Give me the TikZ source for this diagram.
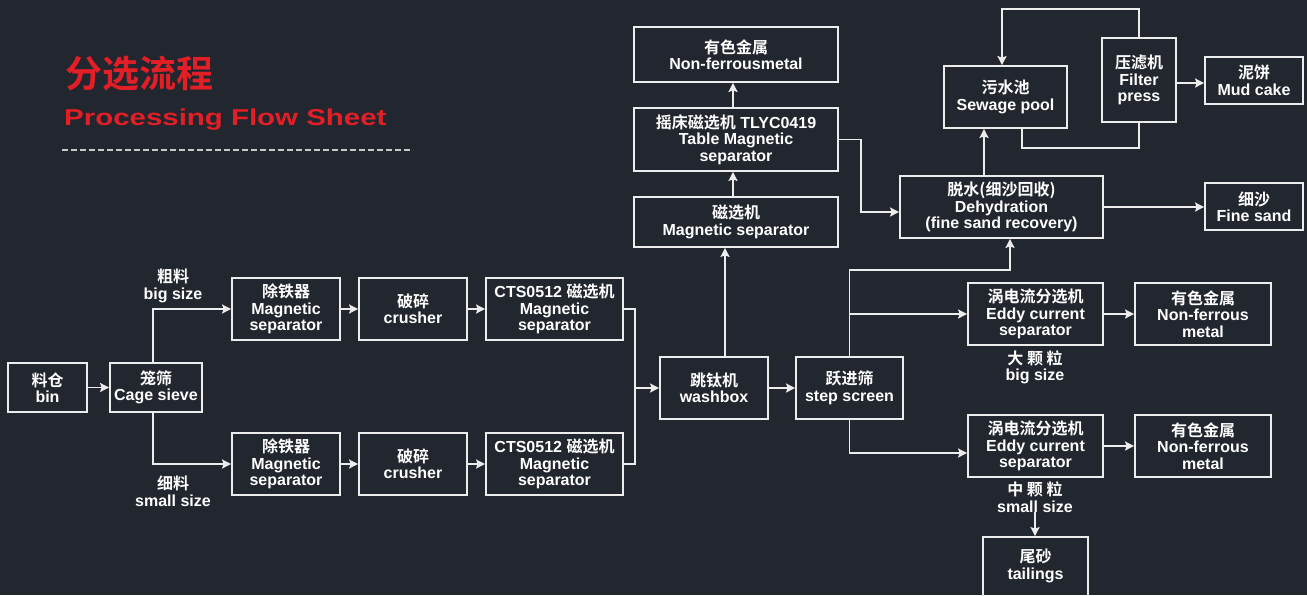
\documentclass[tikz,border=0pt]{standalone}
\usepackage{fontspec}
\usepackage{graphicx}
\setmainfont{Liberation Sans}
\newfontfamily\cjk{Noto Sans CJK SC}[BoldFont={Noto Sans CJK SC Bold}]
\usetikzlibrary{arrows.meta}
\definecolor{bgc}{RGB}{34,38,46}
\definecolor{boxc}{RGB}{236,236,236}
\definecolor{titlered}{RGB}{226,30,38}
\definecolor{dashc}{RGB}{200,200,200}
\newcommand\zh[1]{{\cjk #1}}
\tikzset{
  box/.style={draw=boxc, line width=1.8pt, text=white, align=center,
    font=\fontsize{16}{16.5}\selectfont\bfseries, inner sep=0pt, anchor=center},
  lbl/.style={text=white, align=center, font=\fontsize{16}{16.5}\selectfont\bfseries, inner sep=0pt},
  arr/.style={draw=boxc, line width=1.8pt, -{Stealth[length=9pt,width=9pt,inset=1.5pt]}},
  ln/.style={draw=boxc, line width=1.8pt}
}
\begin{document}
\begin{tikzpicture}[x=1pt,y=1pt]
\useasboundingbox (0,0) rectangle (1307,-595);
\fill[bgc] (0,0) rectangle (1307,-595);
\clip (0,0) rectangle (1307,-595);
% title
\node[text=titlered, font=\cjk\fontsize{37}{37}\selectfont\bfseries, inner sep=0pt] (t1) at (139,-73.5) {分选流程};
\node[text=titlered, font=\fontsize{23}{23}\selectfont\bfseries, inner sep=0pt, anchor=base west] (t2) at (64,-125) {\scalebox{1.28}[1]{Processing Flow Sheet}};
\draw[dashc, line width=1.5pt, dash pattern=on 6pt off 3pt] (62,-150) -- (413,-150);
% nodes
\node[box, minimum width=79pt, minimum height=49pt] (bin) at (47.5,-387.5) {\zh{料仓}\\bin};
\node[box, minimum width=92pt, minimum height=49pt] (cage) at (156,-387.5) {\zh{笼筛}\\Cage sieve};
\node[box, minimum width=108pt, minimum height=62pt] (ms1) at (286,-309) {\zh{除铁器}\\Magnetic\\separator};
\node[box, minimum width=108pt, minimum height=62pt] (cr1) at (413,-309) {\zh{破碎}\\crusher};
\node[box, minimum width=108pt, minimum height=62pt] (ms2) at (286,-464) {\zh{除铁器}\\Magnetic\\separator};
\node[box, minimum width=108pt, minimum height=62pt] (cr2) at (413,-464) {\zh{破碎}\\crusher};
\node[box, minimum width=137pt, minimum height=62pt] (cts1) at (554.5,-309) {CTS0512 \zh{磁选机}\\Magnetic\\separator};
\node[box, minimum width=137pt, minimum height=62pt] (cts2) at (554.5,-464) {CTS0512 \zh{磁选机}\\Magnetic\\separator};
\node[box, minimum width=108pt, minimum height=62pt] (wash) at (714,-388) {\zh{跳钛机}\\washbox};
\node[box, minimum width=107pt, minimum height=62pt] (step) at (849.5,-388) {\zh{跃进筛}\\step screen};
\node[box, minimum width=204pt, minimum height=55pt] (nfm) at (736,-54.5) {\zh{有色金属}\\Non-ferrousmetal};
\node[box, minimum width=204pt, minimum height=63pt] (table) at (736,-139.5) {\zh{摇床磁选机} TLYC0419\\Table Magnetic\\separator};
\node[box, minimum width=204pt, minimum height=50pt] (mag) at (736,-222) {\zh{磁选机}\\Magnetic separator};
\node[box, minimum width=203pt, minimum height=62pt] (dehy) at (1001.5,-207) {\zh{脱水(细沙回收)}\\Dehydration\\(fine sand recovery)};
\node[box, minimum width=123pt, minimum height=62pt] (sew) at (1005.5,-97) {\zh{污水池}\\Sewage pool};
\node[box, minimum width=74pt, minimum height=84pt] (filt) at (1139,-80) {\zh{压滤机}\\Filter\\press};
\node[box, minimum width=98pt, minimum height=47pt] (mud) at (1254,-80.5) {\zh{泥饼}\\Mud cake};
\node[box, minimum width=98pt, minimum height=47pt] (fine) at (1254,-206.5) {\zh{细沙}\\Fine sand};
\node[box, minimum width=135pt, minimum height=62pt] (eddy1) at (1035.5,-314) {\zh{涡电流分选机}\\Eddy current\\separator};
\node[box, minimum width=136pt, minimum height=62pt] (nf1) at (1203,-314) {\zh{有色金属}\\Non-ferrous\\metal};
\node[box, minimum width=135pt, minimum height=62pt] (eddy2) at (1035.5,-446) {\zh{涡电流分选机}\\Eddy current\\separator};
\node[box, minimum width=136pt, minimum height=62pt] (nf2) at (1203,-446) {\zh{有色金属}\\Non-ferrous\\metal};
\node[box, minimum width=105pt, minimum height=70pt] (tail) at (1035.5,-572) {};
\node[lbl] (tailt) at (1035.5,-566) {\zh{尾砂}\\tailings};
% labels
\node[lbl] (lb1) at (173,-286) {\zh{粗料}\\big size};
\node[lbl] (lb2) at (173,-491) {\zh{细料}\\small size};
\node[lbl] (lb3) at (1035,-367.5) {\zh{大 颗 粒}\\big size};
\node[lbl] (lb4) at (1035,-497) {\zh{中 颗 粒}\\small size};
% coordinates
\coordinate (j1) at (635,-388);
\coordinate (k1) at (861,-212);
\coordinate (k2) at (1010,-270);
\coordinate (k4) at (1022,-148);
\coordinate (k5) at (1002,-9);
% connectors
\draw[arr] (bin.east) -- (cage.west);
\draw[arr] ([xshift=-3pt]cage.north) |- (ms1.west);
\draw[arr] ([xshift=-3pt]cage.south) |- (ms2.west);
\draw[arr] (ms1.east) -- (cr1.west);
\draw[arr] (cr1.east) -- (cts1.west);
\draw[arr] (ms2.east) -- (cr2.west);
\draw[arr] (cr2.east) -- (cts2.west);
\draw[ln] (cts1.east) -| (j1);
\draw[ln] (cts2.east) -| (j1);
\draw[arr] (j1) -- (wash.west);
\draw[arr] (wash.east) -- (step.west);
\draw[arr] ([xshift=11pt]wash.north) -- ([xshift=11pt]wash.north |- mag.south);
\draw[arr] ([xshift=-3pt]mag.north) -- ([xshift=-3pt]table.south);
\draw[arr] ([xshift=-3pt]table.north) -- ([xshift=-3pt]nfm.south);
\draw[arr] (table.east) -| (k1) -- (k1 -| dehy.west);
\draw[arr] (step.north) |- (k2) -- (k2 |- dehy.south);
\draw[arr] (step.north |- eddy1.west) -- (eddy1.west);
\draw[arr] (step.south) |- ([yshift=-7pt]eddy2.west);
\draw[arr] (eddy1.east) -- (nf1.west);
\draw[arr] (eddy2.east) -- (nf2.west);
\draw[arr] (lb4.south) -- (lb4.south |- tail.north);
\draw[arr] ([xshift=-17.5pt]dehy.north) -- ([xshift=-17.5pt]dehy.north |- sew.south);
\draw[arr] (dehy.east) -- (dehy.east -| fine.west);
\draw[ln] (sew.south -| k4) -- (k4) -| (filt.south);
\draw[arr] (filt.north) |- (k5) -- (k5 |- sew.north);
\draw[arr] ([yshift=-3pt]filt.east) -- ([yshift=-3pt]filt.east -| mud.west);
\end{tikzpicture}
\end{document}
